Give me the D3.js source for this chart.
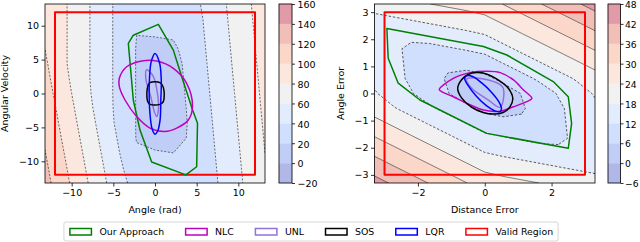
<!DOCTYPE html>
<html><head><meta charset="utf-8">
<script src="https://cdn.jsdelivr.net/npm/d3@7"></script>
<style>body{margin:0;background:#fff} svg{display:block} text{font-family:"DejaVu Sans",sans-serif;fill:#000}</style>
</head><body><svg id="c" width="640" height="242"></svg>
<script>
// ---------------- data ----------------
const leftXTicks = [-10, -5, 0, 5, 10];
const leftYTicks = [-10, -5, 0, 5, 10];
const rightXTicks = [-2, 0, 2];
const rightYTicks = [-3, -2, -1, 0, 1, 2, 3];
const leftLevels = [-20, 0, 20, 40, 60, 80, 100, 120, 140, 160];
const rightLevels = [-6, 0, 6, 12, 18, 24, 30, 36, 42, 48];
const leftExtent = [-13.2, 13.2];
const rightExtent = [-3.3, 3.3];
const leftXLabel = "Angle (rad)", leftYLabel = "Angular Velocity";
const rightXLabel = "Distance Error", rightYLabel = "Angle Error";
// coolwarm samples for the 9 filled bands
const bandColors = ["#3b4cc0", "#6282ea", "#8db0fe", "#b8d0f9", "#dddddd", "#f5c4ad", "#f49a7b", "#de604d", "#b40426"];
// value grids (rows from top y=max to bottom y=min, columns from x=min to x=max), 13x13
const leftGrid = [
  99.4, 83.3, 67.2, 51.2, 35.1, 30.6, 31.7, 32.7, 33.8, 46.8, 61.6, 76.3, 91.0,
  99.4, 83.3, 67.2, 51.2, 35.1, 25.3, 26.4, 27.5, 31.0, 45.7, 60.5, 75.2, 89.9,
  99.4, 83.3, 67.2, 51.2, 35.1, 20.1, 21.1, 22.2, 29.9, 44.6, 59.4, 74.1, 88.8,
  99.9, 83.3, 67.2, 51.2, 35.1, 19.1, 15.8, 16.9, 28.8, 43.5, 58.3, 73.0, 87.7,
  102.9, 83.3, 67.2, 51.2, 35.1, 19.1, 10.6, 12.9, 27.7, 42.4, 57.2, 71.9, 86.6,
  105.8, 86.0, 67.2, 51.2, 35.1, 19.1, 5.3, 11.8, 26.6, 41.3, 56.1, 70.8, 85.5,
  108.8, 89.0, 69.2, 51.2, 35.1, 19.1, 3.0, 10.7, 25.5, 40.2, 55.0, 69.7, 84.4,
  111.8, 92.0, 72.2, 52.4, 35.1, 19.1, 5.3, 9.6, 24.4, 39.1, 53.9, 68.6, 83.3,
  114.7, 94.9, 75.1, 55.3, 35.5, 19.1, 10.6, 9.5, 23.3, 38.0, 52.8, 67.5, 82.2,
  117.7, 97.9, 78.1, 58.3, 38.5, 19.1, 15.8, 14.8, 22.2, 36.9, 51.7, 66.4, 81.1,
  120.7, 100.9, 81.1, 61.3, 41.5, 22.2, 21.1, 20.1, 21.1, 35.8, 50.6, 65.3, 80.0,
  123.7, 103.9, 84.1, 64.3, 44.5, 27.5, 26.4, 25.3, 24.3, 34.7, 49.5, 64.2, 78.9,
  126.6, 106.8, 87.0, 67.2, 47.4, 32.7, 31.7, 30.6, 29.6, 33.6, 48.4, 63.1, 77.8
];
const rightGrid = [
  20.85, 21.88, 22.91, 23.94, 24.97, 26.00, 27.33, 30.13, 32.94, 35.74, 38.54, 41.34, 44.15,
  16.34, 17.37, 18.40, 19.43, 20.46, 21.49, 22.77, 25.57, 28.38, 31.18, 33.98, 36.78, 39.59,
  15.99, 13.16, 13.90, 14.93, 15.96, 16.99, 18.22, 21.02, 23.83, 26.63, 29.43, 32.23, 35.04,
  16.23, 13.40, 10.57, 10.42, 11.45, 12.48, 13.66, 16.46, 19.27, 22.07, 24.87, 27.67, 30.48,
  16.48, 13.65, 10.82, 7.99, 6.95, 7.98, 9.11, 11.91, 14.72, 17.52, 20.32, 23.12, 25.93,
  16.72, 13.89, 11.06, 8.23, 5.41, 3.47, 4.55, 7.35, 10.16, 12.96, 15.76, 18.56, 21.40,
  18.53, 15.44, 12.36, 9.27, 6.18, 3.09, 0.00, 3.09, 6.18, 9.27, 12.36, 15.44, 18.53,
  21.40, 18.56, 15.76, 12.96, 10.16, 7.35, 4.55, 3.47, 5.41, 8.23, 11.06, 13.89, 16.72,
  25.93, 23.12, 20.32, 17.52, 14.72, 11.91, 9.11, 7.98, 6.95, 7.99, 10.82, 13.65, 16.48,
  30.48, 27.67, 24.87, 22.07, 19.27, 16.46, 13.66, 12.48, 11.45, 10.42, 10.57, 13.40, 16.23,
  35.04, 32.23, 29.43, 26.63, 23.83, 21.02, 18.22, 16.99, 15.96, 14.93, 13.90, 13.16, 15.99,
  39.59, 36.78, 33.98, 31.18, 28.38, 25.57, 22.77, 21.49, 20.46, 19.43, 18.40, 17.37, 16.34,
  44.15, 41.34, 38.54, 35.74, 32.94, 30.13, 27.33, 26.00, 24.97, 23.94, 22.91, 21.88, 20.85
];
// region boundaries (data coordinates)
const leftOurApproach = [[0.4,10.2],[2.2,6.4],[3.2,2.5],[4.5,-2.4],[5.1,-4.4],[5.0,-10.8],[3.7,-12.0],[-0.4,-10.1],[-1.8,-5.4],[-2.6,-1.0],[-3.2,7.4],[-2.6,8.6]];
const leftNLC = [[-4.28,2.24],[-3.4,3.95],[-1.4,4.84],[0.2,4.79],[2.2,3.72],[3.8,1.5],[4.5,-1.95],[4.0,-3.9],[2.6,-5.1],[1.2,-5.6],[-0.6,-5.1],[-2.2,-3.4],[-3.6,-0.96],[-4.28,1.0]];
const leftUNL = [[-1.0,3.5],[-0.2,2.5],[0.3,0.0],[0.4,-2.5],[0.2,-3.4],[-0.1,-2.6],[-0.5,-0.5],[-1.1,2.2]];
const leftSOS = [[-0.6,1.6],[0.6,1.6],[1.0,0.9],[1.0,-1.2],[0.6,-1.6],[-0.6,-1.6],[-0.9,-1.1],[-0.9,0.9]];
const leftLQR = [[0,5.9],[0.55,4.5],[0.75,2],[0.7,-1],[0.6,-4],[0.3,-5.6],[0,-6],[-0.35,-5.2],[-0.6,-3],[-0.7,0],[-0.65,2.5],[-0.45,4.7]];
const leftValid = [[-12,-12],[12,-12],[12,12],[-12,12]];
const rightOurApproach = [[-2.93,2.4],[-0.04,1.73],[0.66,1.42],[2.05,0.44],[2.5,-0.12],[2.6,-1.1],[2.5,-2.02],[0.06,-1.47],[-1.94,-0.24],[-2.59,0.38],[-2.89,1.3]];
const rightNLC = [[-1.36,0.15],[-0.94,0.56],[-0.44,0.77],[0.06,0.82],[0.46,0.77],[0.86,0.5],[1.16,0.13],[1.41,-0.18],[1.26,-0.3],[0.86,-0.49],[0.46,-0.65],[-0.04,-0.61],[-0.54,-0.36],[-0.94,-0.12],[-1.29,0.07]];
const rightUNL = [[-0.54,0.53],[0.11,0.5],[0.54,0.23],[0.46,-0.51],[0.11,-0.24],[-0.39,0.19]];
const rightSOS = [[-0.81,0.19],[-0.7,0.5],[-0.5,0.7],[-0.24,0.77],[0.05,0.72],[0.4,0.5],[0.7,0.2],[0.84,-0.18],[0.75,-0.5],[0.55,-0.7],[0.26,-0.76],[-0.05,-0.7],[-0.4,-0.5],[-0.7,-0.15]];
const rightLQR = [[-0.54,0.65],[-0.35,0.62],[-0.1,0.4],[0.2,0.05],[0.42,-0.3],[0.5,-0.55],[0.46,-0.67],[0.3,-0.64],[0.05,-0.45],[-0.25,-0.1],[-0.5,0.3],[-0.6,0.55]];
const rightValid = [[-3,-3],[3,-3],[3,3],[-3,3]];
const legendNames = ["Our Approach", "NLC", "UNL", "SOS", "LQR", "Valid Region"];
const legendColors = ["#008000", "#bf00bf", "#9370db", "#000000", "#0000ff", "#ff0000"];

// ---------------- drawing ----------------
const svg = d3.select("#c");
const ALPHA = 0.4;
const blended = bandColors.map(c => d3.interpolateRgb("#ffffff", c)(ALPHA));
const fmt = d => d3.format("d")(d);

function panel(opt) {
  const xs = d3.scaleLinear().domain(opt.extent).range([opt.x0, opt.x1]);
  const ys = d3.scaleLinear().domain(opt.extent).range([opt.y1, opt.y0]);
  const id = "clip" + opt.name;
  svg.append("clipPath").attr("id", id).append("rect")
    .attr("x", opt.x0).attr("y", opt.y0).attr("width", opt.x1 - opt.x0).attr("height", opt.y1 - opt.y0);
  const g = svg.append("g").attr("clip-path", `url(#${id})`);
  const n = 13, step = (opt.extent[1] - opt.extent[0]) / (n - 1);
  const proj = d3.geoTransform({ point(px, py) {
    this.stream.point(xs(opt.extent[0] + (px - 0.5) * step), ys(opt.extent[1] - (py - 0.5) * step));
  }});
  const path = d3.geoPath(proj);
  const conts = d3.contours().size([n, n]).thresholds(opt.levels.slice(0, -1))(opt.grid);
  conts.forEach((c, i) => {
    g.append("path").attr("d", path(c)).attr("fill", blended[i]).attr("stroke", blended[i]).attr("stroke-width", 0.3);
  });
  conts.forEach((c, i) => {
    if (i === 0) return;
    const st = opt.lineStyle(c.value);
    g.append("path").attr("d", path(c)).attr("fill", "none")
      .attr("stroke", st.color).attr("stroke-width", st.width).attr("stroke-dasharray", st.dash);
  });
  const line = d3.line().x(d => xs(d[0])).y(d => ys(d[1]));
  const smooth = d3.line().x(d => xs(d[0])).y(d => ys(d[1])).curve(d3.curveCatmullRomClosed.alpha(0.5));
  const lin = line.curve(d3.curveLinearClosed);
  opt.regions.forEach(r => {
    g.append("path").attr("d", (r.smooth ? smooth : lin)(r.pts)).attr("fill", "none")
      .attr("stroke", r.color).attr("stroke-width", r.w).attr("stroke-linejoin", "round");
  });
  // frame
  svg.append("rect").attr("x", opt.x0).attr("y", opt.y0).attr("width", opt.x1 - opt.x0).attr("height", opt.y1 - opt.y0)
    .attr("fill", "none").attr("stroke", "#000").attr("stroke-width", 0.8);
  // axes
  const ax = svg.append("g").attr("transform", `translate(0,${opt.y1})`)
    .call(d3.axisBottom(xs).tickValues(opt.xticks).tickSize(3.5).tickPadding(2.5).tickFormat(fmt));
  const ay = svg.append("g").attr("transform", `translate(${opt.x0},0)`)
    .call(d3.axisLeft(ys).tickValues(opt.yticks).tickSize(3.5).tickPadding(2.5).tickFormat(fmt));
  [ax, ay].forEach(a => {
    a.select(".domain").remove();
    a.selectAll("line").attr("stroke", "#000").attr("stroke-width", 0.8);
    a.selectAll("text").attr("font-size", 9.5).attr("font-family", "DejaVu Sans").attr("fill", "#000");
  });
  svg.append("text").attr("x", (opt.x0 + opt.x1) / 2).attr("y", 213).attr("text-anchor", "middle")
    .attr("font-size", 9.5).text(opt.xlabel);
  svg.append("text").attr("transform", `translate(${opt.ylabX},${(opt.y0 + opt.y1) / 2}) rotate(-90)`)
    .attr("text-anchor", "middle").attr("font-size", 9.5).text(opt.ylabel);
  // colorbar
  const cs = d3.scaleLinear().domain([opt.levels[0], opt.levels[opt.levels.length - 1]]).range([opt.y1, opt.y0]);
  const cb = svg.append("g");
  opt.levels.slice(0, -1).forEach((lv, i) => {
    cb.append("rect").attr("x", opt.cbx).attr("width", opt.cbw)
      .attr("y", cs(opt.levels[i + 1])).attr("height", cs(lv) - cs(opt.levels[i + 1]))
      .attr("fill", blended[i]).attr("stroke", blended[i]).attr("stroke-width", 0.3);
  });
  cb.append("rect").attr("x", opt.cbx).attr("y", opt.y0).attr("width", opt.cbw).attr("height", opt.y1 - opt.y0)
    .attr("fill", "none").attr("stroke", "#000").attr("stroke-width", 0.8);
  const ac = svg.append("g").attr("transform", `translate(${opt.cbx + opt.cbw},0)`)
    .call(d3.axisRight(cs).tickValues(opt.levels).tickSize(3).tickPadding(opt.cbPad).tickFormat(fmt));
  ac.select(".domain").remove();
  ac.selectAll("line").attr("stroke", "#000").attr("stroke-width", 0.8);
  ac.selectAll("text").attr("font-size", opt.cbFont).attr("font-family", "DejaVu Sans").attr("fill", "#000")
    .attr("dy", "0.4em");
}

function regions(our, nlc, unl, sos, lqr, valid) {
  return [
    { pts: valid, color: legendColors[5], w: 2, smooth: false },
    { pts: our, color: legendColors[0], w: 1.5, smooth: false },
    { pts: unl, color: legendColors[2], w: 1.5, smooth: true },
    { pts: nlc, color: legendColors[1], w: 1.5, smooth: true },
    { pts: sos, color: legendColors[3], w: 1.5, smooth: true },
    { pts: lqr, color: legendColors[4], w: 1.5, smooth: true }
  ];
}

panel({
  name: "L", x0: 45, x1: 265, y0: 4, y1: 183, extent: leftExtent, grid: leftGrid, levels: leftLevels,
  xticks: leftXTicks, yticks: leftYTicks, xlabel: leftXLabel, ylabel: leftYLabel, ylabX: 8,
  cbx: 279, cbw: 13, cbPad: 2.5, cbFont: 9.5,
  lineStyle: v => ({ color: "#333", width: 0.7, dash: "2,1.6" }),
  regions: regions(leftOurApproach, leftNLC, leftUNL, leftSOS, leftLQR, leftValid)
});
panel({
  name: "R", x0: 374.5, x1: 595, y0: 4, y1: 183, extent: rightExtent, grid: rightGrid, levels: rightLevels,
  xticks: rightXTicks, yticks: rightYTicks, xlabel: rightXLabel, ylabel: rightYLabel, ylabX: 344,
  cbx: 608, cbw: 12.5, cbPad: 1.5, cbFont: 9.2,
  lineStyle: v => (v <= 18 ? { color: "#333", width: 0.8, dash: "2.5,1.8" } : { color: "#333", width: 0.6, dash: null }),
  regions: regions(rightOurApproach, rightNLC, rightUNL, rightSOS, rightLQR, rightValid)
});

// legend
const lg = svg.append("g");
const box = lg.append("rect").attr("y", 222).attr("height", 19).attr("rx", 2)
  .attr("fill", "#fff").attr("fill-opacity", 0.8).attr("stroke", "#ccc").attr("stroke-width", 0.8);
let cx = 0;
const items = legendNames.map((name, i) => {
  const it = lg.append("g");
  it.append("rect").attr("x", 0).attr("y", 228.5).attr("width", 21.5).attr("height", 6.5)
    .attr("fill", "none").attr("stroke", legendColors[i]).attr("stroke-width", 1.5);
  const t = it.append("text").attr("x", 29.5).attr("y", 235).attr("font-size", 9.4).text(name);
  const w = 29.5 + t.node().getComputedTextLength();
  it.attr("transform", `translate(${cx},0)`);
  cx += w + 21.5;
  return it;
});
const total = cx - 21.5;
const startX = 311.5 - total / 2;
items.forEach(it => {
  const tr = it.attr("transform").match(/translate\(([-\d.]+)/)[1];
  it.attr("transform", `translate(${startX + (+tr)},0)`);
});
box.attr("x", startX - 6).attr("width", total + 11);
</script></body></html>
